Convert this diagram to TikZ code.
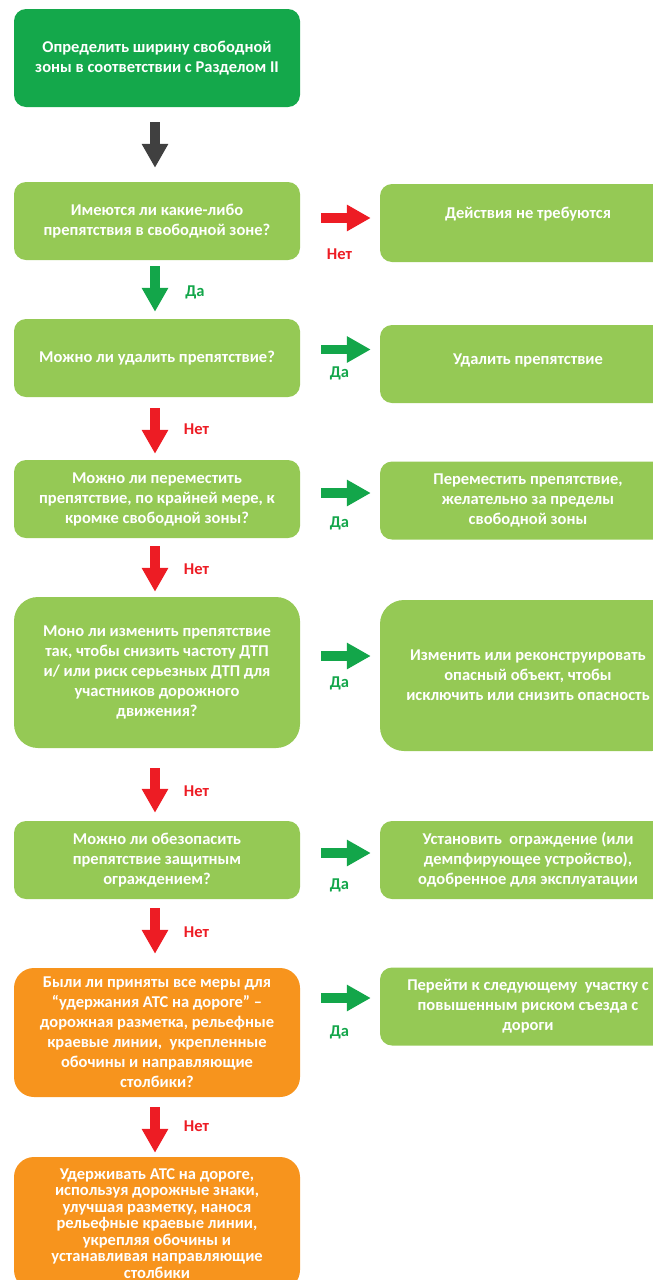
\documentclass[tikz,border=0pt]{standalone}
\usepackage{fontspec}
\setmainfont{Carlito}
\usetikzlibrary{arrows.meta,positioning}

\definecolor{stepgreen}{HTML}{14A84B}
\definecolor{boxgreen}{HTML}{95C955}
\definecolor{boxorange}{HTML}{F7941D}
\definecolor{nored}{HTML}{ED1C24}
\definecolor{yesgreen}{HTML}{13A64A}
\definecolor{startgray}{HTML}{404040}

\tikzset{
  box/.style={fill=boxgreen, rounded corners=12pt, text=white, align=center,
    font=\bfseries\fontsize{16.5}{20}\selectfont, inner sep=0pt},
  qbox/.style={box, minimum width=286pt},
  abox/.style={box, minimum width=296pt},
  blockarrow/.style={line width=9.5pt, -{Triangle[width=25pt,length=24pt]}},
  startarrow/.style={blockarrow, draw=startgray},
  noarrow/.style={blockarrow, draw=nored},
  yesarrow/.style={blockarrow, draw=yesgreen},
  nolabel/.style={text=nored, font=\bfseries\fontsize{16.5}{18}\selectfont},
  yeslabel/.style={text=yesgreen, font=\bfseries\fontsize{16.5}{18}\selectfont}
}

\begin{document}
\begin{tikzpicture}[x=1pt,y=-1pt]
  \useasboundingbox (0,0) rectangle (653,1280);
  \clip (0,0) rectangle (653,1280);
  % questions, left column
  \node[qbox, fill=stepgreen, minimum height=98pt] (q0) at (157,58)
    {Определить ширину свободной\\зоны в соответствии с Разделом II};
  \node[qbox, minimum height=78pt] (q1) at (157,221)
    {Имеются ли какие-либо\\препятствия в свободной зоне?};
  \node[qbox, minimum height=78pt] (q2) at (157,358)
    {Можно ли удалить препятствие?};
  \node[qbox, minimum height=78pt] (q3) at (157,499)
    {Можно ли переместить\\препятствие, по крайней мере, к\\кромке свободной зоны?};
  \node[qbox, minimum height=151pt, rounded corners=24pt] (q4) at (157,672.5)
    {Моно ли изменить препятствие\\так, чтобы снизить частоту ДТП\\и/ или риск серьезных ДТП для\\участников дорожного\\движения?};
  \node[qbox, minimum height=78pt] (q5) at (157,860)
    {Можно ли обезопасить\\препятствие защитным\\ограждением?};
  \node[qbox, fill=boxorange, minimum height=129pt, rounded corners=20pt] (q6) at (157,1032.5)
    {Были ли приняты все меры для\\“удержания АТС на дороге” –\\дорожная разметка, рельефные\\краевые линии,\ \ укрепленные\\обочины и направляющие\\столбики?};
  \node[qbox, fill=boxorange, minimum height=133pt, rounded corners=20pt,
    font=\bfseries\fontsize{16.5}{16.5}\selectfont] (q7) at (157,1223.5)
    {Удерживать АТС на дороге,\\используя дорожные знаки,\\улучшая разметку, нанося\\рельефные краевые линии,\\укрепляя обочины и\\устанавливая направляющие\\столбики};
  % actions, right column
  \node[abox, minimum height=78pt] (a1) at (528,223)
    {Действия не требуются\\\mbox{}};
  \node[abox, minimum height=78pt] (a2) at (528,364)
    {Удалить препятствие\\[-10pt]\mbox{}};
  \node[abox, minimum height=78pt] (a3) at (528,500.5)
    {Переместить препятствие,\\желательно за пределы\\свободной зоны};
  \node[abox, minimum height=151pt, rounded corners=24pt] (a4) at (528,675.5)
    {Изменить или реконструировать\\опасный объект, чтобы\\исключить или снизить опасность};
  \node[abox, minimum height=78pt] (a5) at (528,860)
    {Установить\ \ ограждение (или\\демпфирующее устройство),\\одобренное для эксплуатации};
  \node[abox, minimum height=78pt] (a6) at (528,1006.5)
    {Перейти к следующему\ \ участку с\\повышенным риском съезда с\\дороги};
  % down arrows
  \draw[startarrow, shorten <=15pt, shorten >=14pt] ([xshift=-2pt]q0.south) -- ([xshift=-2pt]q1.north);
  \draw[yesarrow, shorten <=6pt, shorten >=7pt] ([xshift=-2pt]q1.south) -- ([xshift=-2pt]q2.north);
  \draw[noarrow, shorten <=11pt, shorten >=6pt] ([xshift=-2pt]q2.south) -- ([xshift=-2pt]q3.north);
  \draw[noarrow, shorten <=8pt, shorten >=5pt] ([xshift=-2pt]q3.south) -- ([xshift=-2pt]q4.north);
  \draw[noarrow, shorten <=20pt, shorten >=8pt] ([xshift=-2pt]q4.south) -- ([xshift=-2pt]q5.north);
  \draw[noarrow, shorten <=9pt, shorten >=14pt] ([xshift=-2pt]q5.south) -- ([xshift=-2pt]q6.north);
  \draw[noarrow, shorten <=10pt, shorten >=4pt] ([xshift=-2pt]q6.south) -- ([xshift=-2pt]q7.north);
  % side arrows
  \draw[noarrow, shorten <=21pt, shorten >=9pt] ([yshift=3pt]q1.east) -- ([yshift=3pt]q1.east -| a1.west);
  \draw[yesarrow, shorten <=21pt, shorten >=9pt] ([yshift=8.5pt]q2.east) -- ([yshift=8.5pt]q2.east -| a2.west);
  \draw[yesarrow, shorten <=21pt, shorten >=9pt] ([yshift=6pt]q3.east) -- ([yshift=6pt]q3.east -| a3.west);
  \draw[yesarrow, shorten <=21pt, shorten >=9pt] ([yshift=16.5pt]q4.east) -- ([yshift=16.5pt]q4.east -| a4.west);
  \draw[yesarrow, shorten <=21pt, shorten >=9pt] ([yshift=7pt]q5.east) -- ([yshift=7pt]q5.east -| a5.west);
  \draw[yesarrow, shorten <=21pt, shorten >=9pt] ([yshift=34.5pt]q6.east) -- ([yshift=34.5pt]q6.east -| a6.west);
  % labels
  \node[yeslabel] (y1) at (195,292) {Да};
  \node[nolabel] (n2) at (196.5,429) {Нет};
  \node[nolabel] (n3) at (196.5,569) {Нет};
  \node[nolabel] (n4) at (196.5,791) {Нет};
  \node[nolabel] (n5) at (196.5,932) {Нет};
  \node[nolabel] (n6) at (196.5,1126) {Нет};
  \node[nolabel] (n1) at (339.5,254) {Нет};
  \node[yeslabel] (y2) at (339.5,373) {Да};
  \node[yeslabel] (y3) at (339.5,523) {Да};
  \node[yeslabel] (y4) at (339.5,683) {Да};
  \node[yeslabel] (y5) at (339.5,885) {Да};
  \node[yeslabel] (y6) at (339.5,1032) {Да};
\end{tikzpicture}
\end{document}
